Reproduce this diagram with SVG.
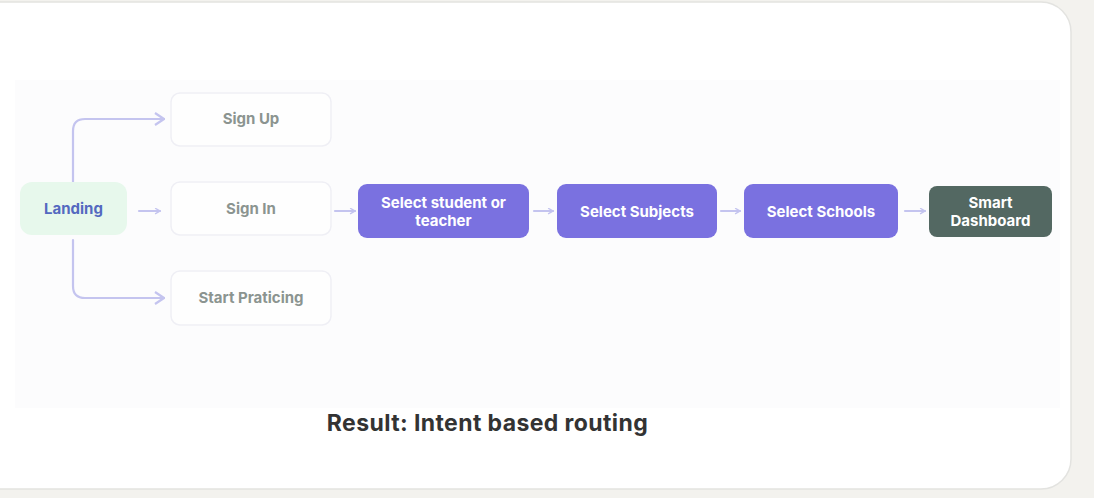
<svg xmlns="http://www.w3.org/2000/svg" width="1094" height="498" viewBox="0 0 1094 498">
<defs>
<style>
.lbl{font-family:Inter,"Liberation Sans",sans-serif;font-weight:700;font-size:15px;text-anchor:middle}
.ghost rect{fill:#fefefe;stroke:#efeff5;stroke-width:1.5}
.ghost text{fill:#8b9490}
.purple rect{fill:#7a71e0}
.purple text{fill:#ffffff}
.conn{fill:none;stroke:#c4c4ef;stroke-width:2.2;stroke-linecap:round;stroke-linejoin:round}
</style>
<marker id="arr" viewBox="0 0 10 10" refX="9" refY="5" markerWidth="7" markerHeight="7" orient="auto" markerUnits="userSpaceOnUse">
<path d="M2,1 L9,5 L2,9" fill="none" stroke="#c4c4ef" stroke-width="2"/>
</marker>
<marker id="chev" viewBox="0 0 12 14" refX="11" refY="7" markerWidth="12" markerHeight="14" orient="auto" markerUnits="userSpaceOnUse">
<path d="M2,1 L11,7 L2,13" fill="none" stroke="#c4c4ef" stroke-width="2.2"/>
</marker>
</defs>
<rect width="1094" height="498" fill="#f3f2ee"/>
<rect x="-30" y="2" width="1101" height="487" rx="30" fill="#ffffff" stroke="#e3e3e0" stroke-width="1.5"/>
<rect x="15" y="80" width="1045" height="328" fill="#fcfcfd"/>

<g id="connectors">
<path class="conn" d="M73,182 V131 Q73,119 85,119 H164" marker-end="url(#chev)"/>
<path class="conn" d="M73,240 V286 Q73,298 85,298 H164" marker-end="url(#chev)"/>
<path class="conn" d="M139,211 H160" marker-end="url(#arr)"/>
<path class="conn" d="M335,211 H355" marker-end="url(#arr)"/>
<path class="conn" d="M534,211 H553" marker-end="url(#arr)"/>
<path class="conn" d="M721,211 H740" marker-end="url(#arr)"/>
<path class="conn" d="M905,211 H925" marker-end="url(#arr)"/>
</g>

<g id="landing">
<rect x="20" y="182" width="107" height="53" rx="12" fill="#e7f8ec"/>
<text class="lbl" x="73.5" y="214" fill="#5469c0">Landing</text>
</g>
<g id="signup" class="ghost">
<rect x="171" y="93" width="160" height="53" rx="9"/>
<text class="lbl" x="251" y="124">Sign Up</text>
</g>
<g id="signin" class="ghost">
<rect x="171" y="182" width="160" height="53" rx="9"/>
<text class="lbl" x="251" y="214">Sign In</text>
</g>
<g id="startpracticing" class="ghost">
<rect x="171" y="271" width="160" height="54" rx="9"/>
<text class="lbl" x="251" y="303">Start Praticing</text>
</g>
<g id="selectrole" class="purple">
<rect x="358" y="184" width="171" height="54" rx="9"/>
<text class="lbl" x="443.5" y="208">Select student or</text>
<text class="lbl" x="443.5" y="226">teacher</text>
</g>
<g id="selectsubjects" class="purple">
<rect x="557" y="184" width="160" height="54" rx="9"/>
<text class="lbl" x="637" y="217">Select Subjects</text>
</g>
<g id="selectschools" class="purple">
<rect x="744" y="184" width="154" height="54" rx="9"/>
<text class="lbl" x="821" y="217">Select Schools</text>
</g>
<g id="dashboard">
<rect x="929" y="186" width="123" height="51" rx="8" fill="#536862"/>
<text class="lbl" x="990.5" y="208" fill="#ffffff">Smart</text>
<text class="lbl" x="990.5" y="226" fill="#ffffff">Dashboard</text>
</g>
<text x="487.5" y="431" font-family="Inter,'Liberation Sans',sans-serif" font-weight="700" font-size="23" letter-spacing="0.4" fill="#333333" text-anchor="middle">Result: Intent based routing</text>
</svg>
